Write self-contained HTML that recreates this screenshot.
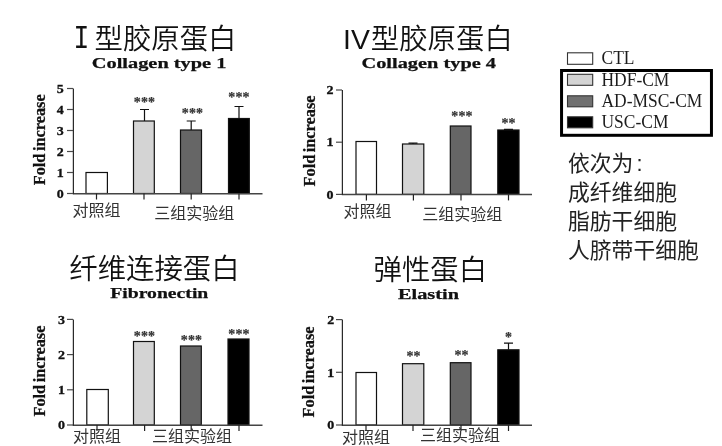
<!DOCTYPE html>
<html lang="zh-CN">
<head>
<meta charset="utf-8">
<title>胶原蛋白 Fold increase</title>
<style>
html,body{margin:0;padding:0;background:#fff;}
body{width:722px;height:446px;overflow:hidden;}
svg{display:block;filter:blur(0.5px);}
text{fill:#111;}
.tk{font:bold 12.2px "Liberation Serif", serif;stroke:#111;stroke-width:0.3px;}
.yl{font:bold 16px "Liberation Serif", serif;stroke:#111;stroke-width:0.25px;word-spacing:-1.6px;}
.st{font:bold 14px "Liberation Serif", serif;fill:#333;stroke:#333;stroke-width:0.2px;letter-spacing:0.1px;}
.su{font:bold 15px "Liberation Serif", serif;stroke:#111;stroke-width:0.25px;}
.lg{font:18px "Liberation Serif", serif;fill:#1c1c1c;}
.ti{font:350 28.4px "Liberation Sans", "Noto Sans CJK SC", sans-serif;}
.ro{font:400 33px "Liberation Mono", monospace;}
.xl{font:400 16px "Liberation Sans", "Noto Sans CJK SC", sans-serif;fill:#333;}
.nt{font:400 21.8px "Liberation Sans", "Noto Sans CJK SC", sans-serif;fill:#222;}
</style>
</head>
<body>
<svg width="722" height="446" viewBox="0 0 722 446">
<rect width="722" height="446" fill="#fff"/>
<rect x="86" y="172.5" width="21.4" height="21.0" fill="#fff" stroke="#111" stroke-width="1.2"/>
<rect x="133.5" y="121" width="20.8" height="72.5" fill="#d4d4d4" stroke="#111" stroke-width="1.2"/>
<rect x="180.5" y="130" width="21.0" height="63.5" fill="#666" stroke="#111" stroke-width="1.2"/>
<rect x="228.5" y="118.5" width="20.8" height="75.0" fill="#000" stroke="#111" stroke-width="1.2"/>
<path d="M144.5 121V109.5M140.0 109.5H149.0" stroke="#111" stroke-width="1.2" fill="none"/>
<path d="M191.2 130V121M186.7 121H195.7" stroke="#111" stroke-width="1.2" fill="none"/>
<path d="M239 118.5V106.5M234.5 106.5H243.5" stroke="#111" stroke-width="1.2" fill="none"/>
<path d="M72.8 193.7H262.5" stroke="#444" stroke-width="1.5" fill="none"/>
<path d="M73.4 88.5V194.1" stroke="#2a2a2a" stroke-width="1.25" fill="none"/>
<path d="M67 193.5H73" stroke="#4a4a4a" stroke-width="1.2"/>
<text x="56.8" y="197.7" textLength="7" lengthAdjust="spacingAndGlyphs" class="tk">0</text>
<path d="M67 172.5H73" stroke="#4a4a4a" stroke-width="1.2"/>
<text x="56.8" y="176.7" textLength="7" lengthAdjust="spacingAndGlyphs" class="tk">1</text>
<path d="M67 151.5H73" stroke="#4a4a4a" stroke-width="1.2"/>
<text x="56.8" y="155.7" textLength="7" lengthAdjust="spacingAndGlyphs" class="tk">2</text>
<path d="M67 130.5H73" stroke="#4a4a4a" stroke-width="1.2"/>
<text x="56.8" y="134.7" textLength="7" lengthAdjust="spacingAndGlyphs" class="tk">3</text>
<path d="M67 109.5H73" stroke="#4a4a4a" stroke-width="1.2"/>
<text x="56.8" y="113.7" textLength="7" lengthAdjust="spacingAndGlyphs" class="tk">4</text>
<path d="M67 88.5H73" stroke="#4a4a4a" stroke-width="1.2"/>
<text x="56.8" y="92.7" textLength="7" lengthAdjust="spacingAndGlyphs" class="tk">5</text>
<path d="M96.5 193.5V199.5" stroke="#222" stroke-width="1.2"/>
<path d="M144 193.5V199.5" stroke="#222" stroke-width="1.2"/>
<path d="M191.2 193.5V199.5" stroke="#222" stroke-width="1.2"/>
<path d="M239 193.5V199.5" stroke="#222" stroke-width="1.2"/>
<text x="144.5" y="107.0" text-anchor="middle" class="st">***</text>
<text x="192.5" y="118.0" text-anchor="middle" class="st">***</text>
<text x="239" y="102.0" text-anchor="middle" class="st">***</text>
<text transform="translate(45.3 139.8) rotate(-90)" text-anchor="middle" class="yl" textLength="91" lengthAdjust="spacingAndGlyphs">Fold increase</text>
<text x="73.4" y="49" class="ti"><tspan class="ro" y="47.8" textLength="15.8" lengthAdjust="spacingAndGlyphs">I</tspan><tspan x="94.5" y="49">型胶原蛋白</tspan></text>
<text x="91.8" y="67.8" class="su" textLength="134.6" lengthAdjust="spacingAndGlyphs">Collagen type 1</text>
<text x="72.5" y="215.8" class="xl">对照组</text>
<text x="154.2" y="219" class="xl">三组实验组</text>
<rect x="356" y="141.5" width="20.5" height="52.9" fill="#fff" stroke="#111" stroke-width="1.2"/>
<rect x="402.5" y="144" width="21.3" height="50.4" fill="#d4d4d4" stroke="#111" stroke-width="1.2"/>
<rect x="450.3" y="126" width="20.7" height="68.4" fill="#666" stroke="#111" stroke-width="1.2"/>
<rect x="497.8" y="130" width="21.2" height="64.4" fill="#000" stroke="#111" stroke-width="1.2"/>
<path d="M413 144V143.2M408.5 143.2H417.5" stroke="#111" stroke-width="1.2" fill="none"/>
<path d="M508.5 130V129.3M504.0 129.3H513.0" stroke="#111" stroke-width="1.2" fill="none"/>
<path d="M341.8 194.6H532" stroke="#444" stroke-width="1.5" fill="none"/>
<path d="M342.4 90V195.0" stroke="#2a2a2a" stroke-width="1.25" fill="none"/>
<path d="M336 194.4H342" stroke="#4a4a4a" stroke-width="1.2"/>
<text x="326.5" y="198.6" textLength="7" lengthAdjust="spacingAndGlyphs" class="tk">0</text>
<path d="M336 142.2H342" stroke="#4a4a4a" stroke-width="1.2"/>
<text x="326.5" y="146.4" textLength="7" lengthAdjust="spacingAndGlyphs" class="tk">1</text>
<path d="M336 90.0H342" stroke="#4a4a4a" stroke-width="1.2"/>
<text x="326.5" y="94.2" textLength="7" lengthAdjust="spacingAndGlyphs" class="tk">2</text>
<path d="M366.4 194.4V200.4" stroke="#222" stroke-width="1.2"/>
<path d="M413.4 194.4V200.4" stroke="#222" stroke-width="1.2"/>
<path d="M461 194.4V200.4" stroke="#222" stroke-width="1.2"/>
<path d="M508.5 194.4V200.4" stroke="#222" stroke-width="1.2"/>
<text x="462" y="120.5" text-anchor="middle" class="st">***</text>
<text x="508.5" y="128.3" text-anchor="middle" class="st">**</text>
<text transform="translate(315.3 141.0) rotate(-90)" text-anchor="middle" class="yl" textLength="91" lengthAdjust="spacingAndGlyphs">Fold increase</text>
<text x="343" y="49" class="ti">IV<tspan dx="1">型胶原蛋白</tspan></text>
<text x="361.5" y="67.8" class="su" textLength="134.5" lengthAdjust="spacingAndGlyphs">Collagen type 4</text>
<text x="343.6" y="217.2" class="xl">对照组</text>
<text x="422.2" y="220" class="xl">三组实验组</text>
<rect x="86.8" y="389.5" width="21.5" height="35.5" fill="#fff" stroke="#111" stroke-width="1.2"/>
<rect x="133.5" y="341.5" width="20.8" height="83.5" fill="#d4d4d4" stroke="#111" stroke-width="1.2"/>
<rect x="180.5" y="346" width="20.8" height="79" fill="#666" stroke="#111" stroke-width="1.2"/>
<rect x="228" y="339" width="21" height="86" fill="#000" stroke="#111" stroke-width="1.2"/>
<path d="M72.8 425.2H262.5" stroke="#444" stroke-width="1.5" fill="none"/>
<path d="M73.4 319.5V425.6" stroke="#2a2a2a" stroke-width="1.25" fill="none"/>
<path d="M67 425.0H73" stroke="#4a4a4a" stroke-width="1.2"/>
<text x="58.1" y="429.2" textLength="7" lengthAdjust="spacingAndGlyphs" class="tk">0</text>
<path d="M67 389.8H73" stroke="#4a4a4a" stroke-width="1.2"/>
<text x="58.1" y="394.0" textLength="7" lengthAdjust="spacingAndGlyphs" class="tk">1</text>
<path d="M67 354.6H73" stroke="#4a4a4a" stroke-width="1.2"/>
<text x="58.1" y="358.8" textLength="7" lengthAdjust="spacingAndGlyphs" class="tk">2</text>
<path d="M67 319.4H73" stroke="#4a4a4a" stroke-width="1.2"/>
<text x="58.1" y="323.6" textLength="7" lengthAdjust="spacingAndGlyphs" class="tk">3</text>
<path d="M97 425V431" stroke="#222" stroke-width="1.2"/>
<path d="M144.6 425V431" stroke="#222" stroke-width="1.2"/>
<path d="M191.2 425V431" stroke="#222" stroke-width="1.2"/>
<path d="M239 425V431" stroke="#222" stroke-width="1.2"/>
<text x="144.5" y="340.5" text-anchor="middle" class="st">***</text>
<text x="191.5" y="345.0" text-anchor="middle" class="st">***</text>
<text x="239" y="338.5" text-anchor="middle" class="st">***</text>
<text transform="translate(45.3 371.05) rotate(-90)" text-anchor="middle" class="yl" textLength="91" lengthAdjust="spacingAndGlyphs">Fold increase</text>
<text x="69.3" y="278.8" class="ti" font-size="28.1">纤维连接蛋白</text>
<text x="110.3" y="298.3" class="su" textLength="98" lengthAdjust="spacingAndGlyphs">Fibronectin</text>
<text x="73" y="442" class="xl">对照组</text>
<text x="152" y="442" class="xl">三组实验组</text>
<rect x="356" y="372.5" width="20.5" height="52.5" fill="#fff" stroke="#111" stroke-width="1.2"/>
<rect x="402.5" y="363.7" width="21.3" height="61.3" fill="#d4d4d4" stroke="#111" stroke-width="1.2"/>
<rect x="450.3" y="362.7" width="20.7" height="62.3" fill="#666" stroke="#111" stroke-width="1.2"/>
<rect x="497.8" y="349.8" width="21.2" height="75.2" fill="#000" stroke="#111" stroke-width="1.2"/>
<path d="M508.5 349.8V343.2M504.0 343.2H513.0" stroke="#111" stroke-width="1.2" fill="none"/>
<path d="M341.8 425.2H532" stroke="#444" stroke-width="1.5" fill="none"/>
<path d="M342.4 319.5V425.6" stroke="#2a2a2a" stroke-width="1.25" fill="none"/>
<path d="M336 425.0H342" stroke="#4a4a4a" stroke-width="1.2"/>
<text x="327.3" y="429.2" textLength="7" lengthAdjust="spacingAndGlyphs" class="tk">0</text>
<path d="M336 372.3H342" stroke="#4a4a4a" stroke-width="1.2"/>
<text x="327.3" y="376.5" textLength="7" lengthAdjust="spacingAndGlyphs" class="tk">1</text>
<path d="M336 319.6H342" stroke="#4a4a4a" stroke-width="1.2"/>
<text x="327.3" y="323.8" textLength="7" lengthAdjust="spacingAndGlyphs" class="tk">2</text>
<path d="M366 425V431" stroke="#222" stroke-width="1.2"/>
<path d="M413 425V431" stroke="#222" stroke-width="1.2"/>
<path d="M461 425V431" stroke="#222" stroke-width="1.2"/>
<path d="M508.5 425V431" stroke="#222" stroke-width="1.2"/>
<text x="413.5" y="361.0" text-anchor="middle" class="st">**</text>
<text x="461.5" y="360.0" text-anchor="middle" class="st">**</text>
<text x="508.5" y="341.7" text-anchor="middle" class="st">*</text>
<text transform="translate(314.0 371.95) rotate(-90)" text-anchor="middle" class="yl" textLength="91" lengthAdjust="spacingAndGlyphs">Fold increase</text>
<text x="373.5" y="280" class="ti" font-size="28">弹性蛋白</text>
<text x="398" y="299" class="su" textLength="61" lengthAdjust="spacingAndGlyphs">Elastin</text>
<text x="342" y="443" class="xl">对照组</text>
<text x="420" y="440.8" class="xl">三组实验组</text>
<rect x="567.5" y="52.8" width="25.2" height="11.5" fill="#fff" stroke="#333" stroke-width="1.1"/>
<text transform="translate(601.5 64.3) scale(0.97 1)" class="lg">CTL</text>
<rect x="567.5" y="74.3" width="25.2" height="11.0" fill="#d4d4d4" stroke="#333" stroke-width="1.1"/>
<text transform="translate(601.5 85.6) scale(0.97 1)" class="lg">HDF-CM</text>
<rect x="567.5" y="95.8" width="25.2" height="11.0" fill="#707070" stroke="#333" stroke-width="1.1"/>
<text transform="translate(601.5 107.1) scale(0.97 1)" class="lg">AD-MSC-CM</text>
<rect x="567.5" y="116.8" width="25.2" height="11.0" fill="#000" stroke="#333" stroke-width="1.1"/>
<text transform="translate(601.5 128.1) scale(0.97 1)" class="lg">USC-CM</text>
<rect x="561.55" y="70.5" width="149.9" height="64.8" fill="none" stroke="#000" stroke-width="3"/>
<text x="568" y="171.4" class="nt">依次为<tspan dx="3">:</tspan></text>
<text x="568" y="200.4" class="nt">成纤维细胞</text>
<text x="568" y="229.4" class="nt">脂肪干细胞</text>
<text x="568" y="258.4" class="nt">人脐带干细胞</text>
</svg>
</body>
</html>
